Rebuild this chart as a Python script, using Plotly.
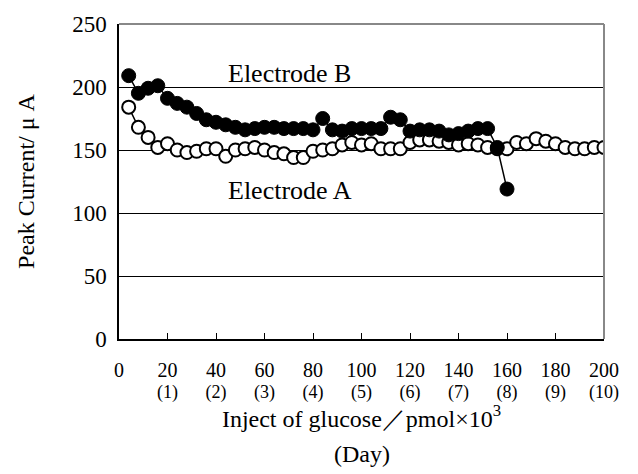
import plotly.graph_objects as go

# Data
x_a = [4, 8, 12, 16, 20, 24, 28, 32, 36, 40, 44, 48, 52, 56, 60, 64, 68, 72, 76, 80,
       84, 88, 92, 96, 100, 104, 108, 112, 116, 120, 124, 128, 132, 136, 140, 144, 148, 152, 156, 160,
       164, 168, 172, 176, 180, 184, 188, 192, 196, 200]
y_a = [184, 168, 160, 152, 155, 150, 148, 149, 151, 151, 145, 150, 151, 152, 150, 148, 147, 144, 144, 149,
       150, 151, 154, 156, 154, 155, 151, 151, 151, 156, 158, 158, 157, 156, 154, 155, 154, 152, 151, 151,
       156, 155, 159, 157, 155, 152, 151, 151, 152, 152]

x_b = [4, 8, 12, 16, 20, 24, 28, 32, 36, 40, 44, 48, 52, 56, 60, 64, 68, 72, 76, 80,
       84, 88, 92, 96, 100, 104, 108, 112, 116, 120, 124, 128, 132, 136, 140, 144, 148, 152, 156, 160]
y_b = [209, 195, 199, 201, 191, 187, 184, 179, 174, 172, 170, 168, 166, 167, 168, 168, 167, 167, 167, 166,
       175, 166, 165, 167, 167, 167, 167, 176, 174, 165, 166, 166, 165, 162, 163, 165, 167, 167, 152, 119]

x_ticks = [0, 20, 40, 60, 80, 100, 120, 140, 160, 180, 200]
day_ticks = [20, 40, 60, 80, 100, 120, 140, 160, 180, 200]
day_labels = ["(1)", "(2)", "(3)", "(4)", "(5)", "(6)", "(7)", "(8)", "(9)", "(10)"]
y_ticks = [0, 50, 100, 150, 200, 250]

FONT = "Liberation Serif, Times New Roman, serif"

fig = go.Figure()
fig.add_trace(go.Scatter(
    x=x_a, y=y_a, mode="lines+markers", name="Electrode A",
    line=dict(color="black", width=1.5),
    marker=dict(symbol="circle", size=13, color="white", line=dict(color="black", width=2)),
))
fig.add_trace(go.Scatter(
    x=x_b, y=y_b, mode="lines+markers", name="Electrode B",
    line=dict(color="black", width=1.5),
    marker=dict(symbol="circle", size=14, color="black", line=dict(color="black", width=1)),
))
# empty trace to carry the day-label axis
fig.add_trace(go.Scatter(x=[], y=[], xaxis="x2", yaxis="y", showlegend=False, hoverinfo="skip"))

fig.update_layout(
    width=638, height=474,
    margin=dict(l=119, r=34, t=18, b=135),
    paper_bgcolor="white", plot_bgcolor="white",
    showlegend=False,
    font=dict(family=FONT, color="black", size=20),
    xaxis=dict(
        range=[0, 200], tickvals=x_ticks,
        ticks="inside", ticklen=6, tickwidth=1.2, tickcolor="black",
        showline=True, linecolor="black", linewidth=1.5,
        showgrid=False, zeroline=False,
        tickfont=dict(family=FONT, size=20),
        ticklabelstandoff=12,
        title=dict(text="Inject of glucose／pmol×10<sup>3</sup>", font=dict(family=FONT, size=24), standoff=30),
    ),
    xaxis2=dict(
        range=[0, 200], overlaying="x", side="bottom", anchor="y",
        tickvals=day_ticks, ticktext=day_labels,
        ticks="", showline=False, showgrid=False, zeroline=False,
        tickfont=dict(family=FONT, size=18),
        ticklabelstandoff=40,
    ),
    yaxis=dict(
        range=[0, 250], tickvals=y_ticks,
        ticks="", showline=True, linecolor="black", linewidth=1.5,
        showgrid=True, gridcolor="black", gridwidth=1, zeroline=False,
        tickfont=dict(family=FONT, size=23),
        ticklabelstandoff=6,
        title=dict(text="Peak Current/ μ A", font=dict(family=FONT, size=24), standoff=31),
    ),
    shapes=[
        dict(type="line", xref="paper", yref="paper", x0=0, x1=1, y0=1, y1=1,
             line=dict(color="#888888", width=2), layer="above"),
        dict(type="line", xref="paper", yref="paper", x0=1, x1=1, y0=0, y1=1,
             line=dict(color="#888888", width=2), layer="above"),
    ],
    annotations=[
        dict(text="Electrode B", x=70.5, y=211, xref="x", yref="y", showarrow=False,
             font=dict(family=FONT, size=26)),
        dict(text="Electrode A", x=70.5, y=118, xref="x", yref="y", showarrow=False,
             font=dict(family=FONT, size=26)),
        dict(text="(Day)", x=0.5, y=-0.365, xref="paper", yref="paper", showarrow=False,
             xanchor="center", yanchor="middle", font=dict(family=FONT, size=24)),
    ],
)

fig.write_html("out.html")
